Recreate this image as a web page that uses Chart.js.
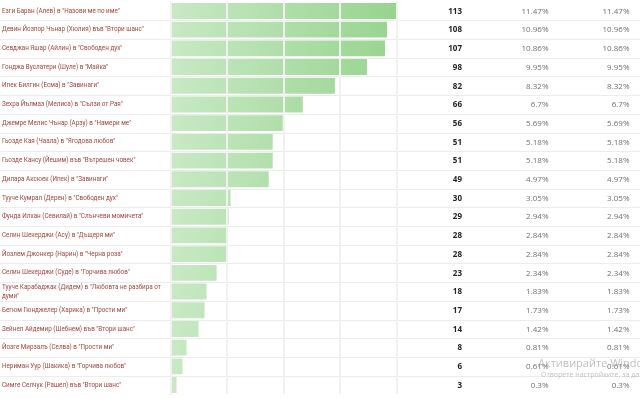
<!DOCTYPE html>
<html>
<head>
<meta charset="utf-8">
<script src="https://cdn.jsdelivr.net/npm/chart.js@4.4.1/dist/chart.umd.min.js"></script>
<style>
  html, body { margin: 0; padding: 0; background: #ffffff; overflow: hidden; }
  body { width: 640px; height: 399px; position: relative; }
  #wrap { position: absolute; left: 0; top: -3px; width: 640px; height: 402px; }
  .wm1 { position: absolute; left: 538px; top: 355px; font: 11px "Open Sans", sans-serif; color: rgba(150,150,150,0.6); white-space: nowrap; }
  .wm2 { position: absolute; left: 541px; top: 370px; font: 7px "Open Sans", sans-serif; color: rgba(150,150,150,0.6); white-space: nowrap; }
</style>
</head>
<body>
<div id="wrap"><canvas id="c"></canvas></div>
<div class="wm1">Активирайте Windows</div>
<div class="wm2">Отворете настройките, за да активирате Windows.</div>
<script>
const categories = [
  'Езги Баран (Алев) в "Назови ме по име"',
  'Девин Йозпор Чънар (Хюлия) във "Втори шанс"',
  'Севджан Яшар (Айлин) в "Свободен дух"',
  'Гонджа Вуслатери (Шуле) в "Майка"',
  'Ипек Билгин (Есма) в "Завинаги"',
  'Зехра Йълмаз (Мелиса) в "Сълзи от Рая"',
  'Джемре Мелис Чънар (Арзу) в "Намери ме"',
  'Гьозде Кая (Чаала) в "Ягодова любов"',
  'Гьозде Кансу (Йешим) във "Вътрешен човек"',
  'Дилара Аксюек (Ипек) в "Завинаги"',
  'Тууче Кумрал (Дерен) в "Свободен дух"',
  'Фунда Илхан (Севилай) в "Слънчеви момичета"',
  'Селин Шекерджи (Асу) в "Дъщеря ми"',
  'Йозлем Джонкер (Нарин) в "Черна роза"',
  'Селин Шекерджи (Суде) в "Горчива любов"',
  'Тууче Карабаджак (Дидем) в "Любовта не разбира от думи"',
  'Бегюм Гюнджелер (Харика) в "Прости ми"',
  'Зейнеп Айдемир (Шебнем) във "Втори шанс"',
  'Йозге Мирзалъ (Селва) в "Прости ми"',
  'Нериман Уур (Шакика) в "Горчива любов"',
  'Симге Селчук (Рашел) във "Втори шанс"'
];
const votes = [113, 108, 107, 98, 82, 66, 56, 51, 51, 49, 30, 29, 28, 28, 23, 18, 17, 14, 8, 6, 3];
const percentA = ['11.47%', '10.96%', '10.86%', '9.95%', '8.32%', '6.7%', '5.69%', '5.18%', '5.18%', '4.97%', '3.05%', '2.94%', '2.84%', '2.84%', '2.34%', '1.83%', '1.73%', '1.42%', '0.81%', '0.61%', '0.3%'];
const percentB = ['11.47%', '10.96%', '10.86%', '9.95%', '8.32%', '6.7%', '5.69%', '5.18%', '5.18%', '4.97%', '3.05%', '2.94%', '2.84%', '2.84%', '2.34%', '1.83%', '1.73%', '1.42%', '0.81%', '0.61%', '0.3%'];
const axisMax = 113;
const axisStep = 28.25;

const LABEL_FAMILY = 'Roboto, "Open Sans", sans-serif';
// fit the label font so the second label spans about 142px, as in the picture
const measureCtx = document.createElement('canvas').getContext('2d');
measureCtx.font = '10px ' + LABEL_FAMILY;
const LABEL_SIZE = Math.min(8, 10 * 142 / measureCtx.measureText(categories[1]).width);
const LABEL_FONT = LABEL_SIZE + 'px ' + LABEL_FAMILY;
const LABEL_MAX_W = 166;

function wrapLabel(text) {
  measureCtx.font = LABEL_FONT;
  const words = text.split(' ');
  const lines = [];
  let cur = '';
  for (const w of words) {
    const t = cur ? cur + ' ' + w : w;
    if (measureCtx.measureText(t).width > LABEL_MAX_W && cur) { lines.push(cur); cur = w; }
    else cur = t;
  }
  if (cur) lines.push(cur);
  return lines.length > 1 ? lines : lines[0];
}

const tablePlugin = {
  id: 'tablePlugin',
  beforeDatasetsDraw(chart) {
    const ctx = chart.ctx;
    const y = chart.scales.y;
    ctx.save();
    ctx.strokeStyle = '#ececec';
    ctx.lineWidth = 1;
    const n = chart.data.labels.length;
    for (let i = 0; i < n - 1; i++) {
      const yy = Math.round((y.getPixelForTick(i) + y.getPixelForTick(i + 1)) / 2) + 0.5;
      ctx.beginPath();
      ctx.moveTo(0, yy);
      ctx.lineTo(chart.width, yy);
      ctx.stroke();
    }
    ctx.restore();
  },
  afterDraw(chart) {
    const ctx = chart.ctx;
    const y = chart.scales.y;
    ctx.save();
    ctx.textBaseline = 'middle';
    ctx.textAlign = 'right';
    for (let i = 0; i < votes.length; i++) {
      const yy = y.getPixelForTick(i) + 0.5;
      ctx.font = 'bold 8px "Open Sans", sans-serif';
      ctx.fillStyle = '#252525';
      ctx.fillText(String(votes[i]), 462, yy);
      ctx.font = '8px "Open Sans", sans-serif';
      ctx.fillStyle = '#707070';
      ctx.fillText(percentA[i], 548.5, yy);
      ctx.fillText(percentB[i], 629.5, yy);
    }
    ctx.restore();
  }
};

new Chart(document.getElementById('c'), {
  type: 'bar',
  data: {
    labels: categories.map(wrapLabel),
    datasets: [{
      data: votes,
      backgroundColor(context) {
        const area = context.chart.chartArea;
        if (!area) return '#b5e0b0';
        const g = context.chart.ctx.createLinearGradient(area.left, 0, area.right, 0);
        g.addColorStop(0, '#c8e9c4');
        g.addColorStop(1, '#97d48f');
        return g;
      },
      borderWidth: 0,
      categoryPercentage: 1,
      barPercentage: 0.85
    }]
  },
  plugins: [tablePlugin],
  options: {
    indexAxis: 'y',
    responsive: true,
    maintainAspectRatio: false,
    animation: false,
    layout: { padding: { left: 2, right: 243, top: 0, bottom: 0 } },
    plugins: { legend: { display: false }, tooltip: { enabled: false } },
    scales: {
      x: {
        min: 0,
        max: axisMax,
        position: 'bottom',
        ticks: { display: false, stepSize: axisStep },
        grid: { color: '#f1f1f1', lineWidth: 2, drawTicks: false, z: 1 },
        border: { display: false },
        afterFit(scale) { scale.height = 0; }
      },
      y: {
        ticks: {
          font: { family: LABEL_FAMILY, size: LABEL_SIZE, lineHeight: 1.45 },
          color: '#a3463f',
          crossAlign: 'far',
          padding: 0,
          autoSkip: false
        },
        grid: { display: false, drawTicks: false },
        border: { display: true, color: '#e4e4e4', width: 1 },
        afterFit(scale) { scale.width = 168.5; }
      }
    }
  }
});
</script>
</body>
</html>
